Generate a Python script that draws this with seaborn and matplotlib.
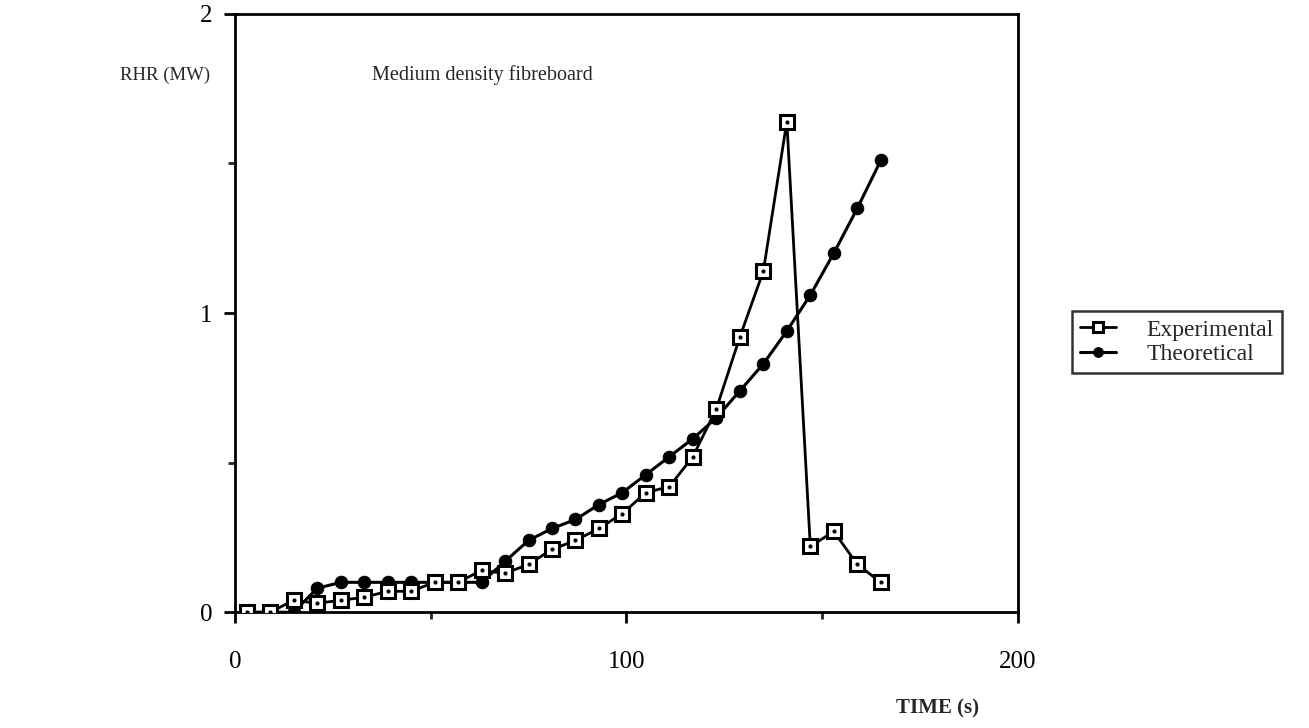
import numpy as np
import pandas as pd
import matplotlib
matplotlib.use("Agg")
import matplotlib.pyplot as plt
from matplotlib.ticker import MultipleLocator
import seaborn as sns

# time (s) and rate of heat release (MW)
time_s = [3, 9, 15, 21, 27, 33, 39, 45, 51, 57, 63, 69, 75, 81, 87, 93, 99,
          105, 111, 117, 123, 129, 135, 141, 147, 153, 159, 165]
rhr_exp = [0.0, 0.0, 0.04, 0.03, 0.04, 0.05, 0.07, 0.07, 0.10, 0.10, 0.14, 0.13,
           0.16, 0.21, 0.24, 0.28, 0.33, 0.40, 0.42, 0.52, 0.68, 0.92, 1.14,
           1.64, 0.22, 0.27, 0.16, 0.10]
rhr_theo = [0.0, 0.0, 0.0, 0.08, 0.10, 0.10, 0.10, 0.10, 0.10, 0.10, 0.10, 0.17,
            0.24, 0.28, 0.31, 0.36, 0.40, 0.46, 0.52, 0.58, 0.65, 0.74, 0.83,
            0.94, 1.06, 1.20, 1.35, 1.51]

df = pd.DataFrame({"time": time_s, "Experimental": rhr_exp, "Theoretical": rhr_theo})

sns.set_style("white")
plt.rcParams["font.family"] = ["Liberation Serif", "DejaVu Serif"]

fig = plt.figure(figsize=(13.09, 7.28), dpi=100)
ax = fig.add_axes([0.1795, 0.159, 0.598, 0.822])

sns.lineplot(data=df, x="time", y="Theoretical", ax=ax, color="black", lw=2.2,
             marker="o", markersize=9, markerfacecolor="black",
             markeredgecolor="black", label="Theoretical", zorder=2)
sns.lineplot(data=df, x="time", y="Experimental", ax=ax, color="black", lw=2.0,
             marker="s", markersize=10, markerfacecolor="white",
             markeredgecolor="black", markeredgewidth=2.2,
             label="Experimental", zorder=3)
# little dot inside the open squares
ax.scatter(df["time"], df["Experimental"], s=4, color="black", zorder=4)

ax.set_xlim(0, 200)
ax.set_ylim(0, 2)
ax.xaxis.set_major_locator(MultipleLocator(100))
ax.xaxis.set_minor_locator(MultipleLocator(50))
ax.yaxis.set_major_locator(MultipleLocator(1))
ax.yaxis.set_minor_locator(MultipleLocator(0.5))
ax.tick_params(which="major", direction="out", length=8, width=2, labelsize=18,
               bottom=True, left=True, colors="black")
ax.tick_params(which="minor", direction="out", length=5, width=2,
               bottom=True, left=True)
ax.tick_params(axis="x", pad=20)
ax.tick_params(axis="y", pad=8)
for s in ax.spines.values():
    s.set_color("black")
    s.set_linewidth(2)

ax.set_xlabel("")
ax.set_ylabel("")
fig.text(0.092, 0.897, "RHR (MW)", fontsize=13.5, va="center", ha="left")
fig.text(0.284, 0.897, "Medium density fibreboard", fontsize=14.5,
         va="center", ha="left")
fig.text(0.716, 0.027, "TIME (s)", fontsize=15, fontweight="bold",
         va="center", ha="center")

handles, labels = ax.get_legend_handles_labels()
order = [labels.index("Experimental"), labels.index("Theoretical")]
ax.get_legend().remove()
leg = fig.legend([handles[i] for i in order], [labels[i] for i in order],
                 loc="center left", bbox_to_anchor=(0.819, 0.53),
                 borderaxespad=0, fontsize=17, frameon=True, fancybox=False,
                 handlelength=1.5, borderpad=0.35, labelspacing=0.12,
                 handletextpad=1.3)
leg.get_frame().set_edgecolor("black")
leg.get_frame().set_linewidth(1.8)
for h in leg.legend_handles:
    h.set_markersize(7)

fig.savefig("out.png", dpi=100)
